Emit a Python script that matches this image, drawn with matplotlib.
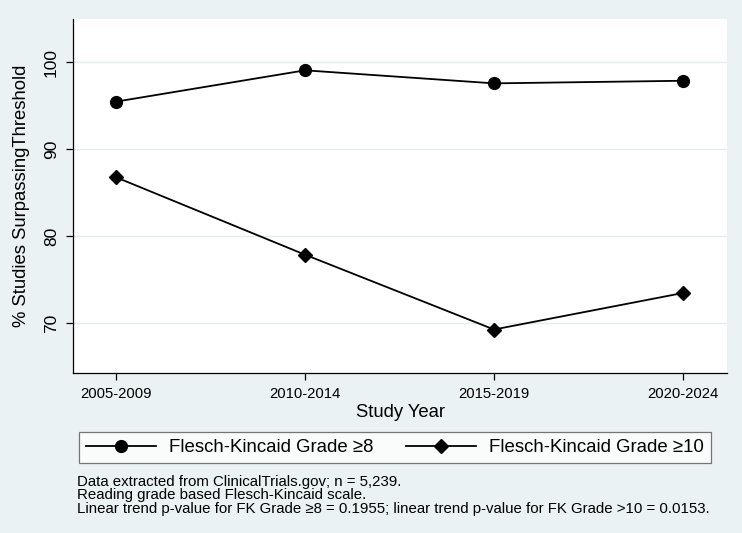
import matplotlib.pyplot as plt

periods = ['2005-2009', '2010-2014', '2015-2019', '2020-2024']
fk8 = [95.5, 99.1, 97.6, 97.9]
fk10 = [86.8, 77.9, 69.3, 73.5]
yticks = [70, 80, 90, 100]

plt.rcParams['font.family'] = ['Liberation Sans', 'DejaVu Sans']
bg = '#eaf2f3'

fig = plt.figure(figsize=(7.42, 5.33), dpi=100, facecolor=bg)
ax = fig.add_axes([73/742, 1 - 373/533, 654/742, 354/533])
ax.set_facecolor('white')

x = range(len(periods))
ax.plot(x, fk8, color='black', lw=1.3, marker='o', ms=8.5,
        label='Flesch-Kincaid Grade \u22658')
ax.plot(x, fk10, color='black', lw=1.3, marker='D', ms=7.5,
        label='Flesch-Kincaid Grade \u226510')

ax.set_xlim(-0.228, 3.233)
ax.set_ylim(64.3, 105.0)
ax.set_yticks(yticks)
ax.set_yticklabels([str(t) for t in yticks], rotation=90, va='center', fontsize=12.5)
ax.set_xticks(list(x))
ax.set_xticklabels(periods, fontsize=10.7)
ax.grid(axis='y', color='#e3ecef', lw=1)
ax.set_axisbelow(True)
for s in ['top', 'right']:
    ax.spines[s].set_visible(False)
for s in ['left', 'bottom']:
    ax.spines[s].set_color('black')
    ax.spines[s].set_linewidth(0.9)
ax.tick_params(length=5, width=0.9, color='black', pad=5)
ax.set_ylabel('% Studies SurpassingThreshold', fontsize=13.3)
ax.yaxis.set_label_coords(-43/654, 0.5)
ax.set_xlabel('Study Year', fontsize=13.3)
ax.xaxis.set_label_coords(0.5, -0.088)

leg = fig.legend(loc='center left', bbox_to_anchor=(79/742, 1 - 447.5/533), ncol=2,
                 fontsize=13.4, frameon=True, fancybox=False, edgecolor='#555555',
                 handlelength=3.75, handletextpad=0.7, columnspacing=1.75,
                 borderpad=0.4, borderaxespad=0)
leg.get_frame().set_linewidth(0.9)

notes = ('Data extracted from ClinicalTrials.gov; n = 5,239.\n'
         'Reading grade based Flesch-Kincaid scale.\n'
         'Linear trend p-value for FK Grade \u22658 = 0.1955; linear trend p-value for FK Grade >10 = 0.0153.')
fig.text(77/742, 1 - 475/533, notes, fontsize=10.8, va='top', ha='left', linespacing=0.95)

fig.savefig('out.png', dpi=100, facecolor=bg)
